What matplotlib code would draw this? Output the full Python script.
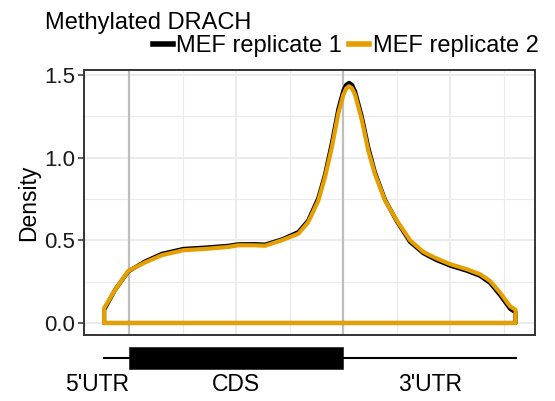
import matplotlib
matplotlib.use('Agg')
import matplotlib.pyplot as plt
from matplotlib.lines import Line2D
from matplotlib.patches import Rectangle
import numpy as np

plt.rcParams['font.family'] = ['Liberation Sans', 'DejaVu Sans']

# DATA
# metagene position: 5'UTR < 1, CDS 1..2, 3'UTR > 2
pos = [0.882, 0.933, 0.995, 1.073, 1.151, 1.252, 1.354, 1.463, 1.509, 1.587,
       1.634, 1.712, 1.790, 1.836, 1.883, 1.914, 1.946, 1.977, 2.0, 2.013,
       2.027, 2.041, 2.055, 2.086, 2.117, 2.148, 2.195, 2.250, 2.312, 2.374,
       2.436, 2.499, 2.577, 2.639, 2.686, 2.733, 2.780, 2.805]
rep1 = [0.08, 0.20, 0.312, 0.372, 0.418, 0.448, 0.456, 0.467, 0.476, 0.477,
        0.474, 0.505, 0.55, 0.62, 0.755, 0.895, 1.085, 1.295, 1.405, 1.44,
        1.452, 1.44, 1.40, 1.25, 1.06, 0.91, 0.745, 0.615, 0.49, 0.422,
        0.38, 0.347, 0.316, 0.285, 0.242, 0.168, 0.085, 0.065]
rep2 = [0.09, 0.20, 0.315, 0.366, 0.41, 0.44, 0.448, 0.46, 0.47, 0.47,
        0.467, 0.50, 0.54, 0.61, 0.74, 0.88, 1.06, 1.27, 1.38, 1.418,
        1.432, 1.418, 1.38, 1.23, 1.04, 0.90, 0.74, 0.62, 0.50, 0.43,
        0.39, 0.356, 0.325, 0.295, 0.254, 0.183, 0.10, 0.08]
series = ['MEF replicate 1', 'MEF replicate 2']
colors = ['#000000', '#E69F00']
boundaries = [1.0, 2.0]
regions = ["5'UTR", 'CDS', "3'UTR"]
region_label_x = [0.85, 1.5, 2.405]
yticks = [0.0, 0.5, 1.0, 1.5]

# PLOT
fig = plt.figure(figsize=(5.55, 4.01), dpi=100)
ax = fig.add_axes([0.1514, 0.1646, 0.8126, 0.6608])

grid_col = '#EBEBEB'
for x in [1.0, 1.5, 2.0, 2.5]:
    ax.axvline(x, color=grid_col, lw=1.4, zorder=0)
for x in [1.25, 1.75, 2.25, 2.75]:
    ax.axvline(x, color=grid_col, lw=0.8, zorder=0)
for y in yticks:
    ax.axhline(y, color=grid_col, lw=1.4, zorder=0)
for y in [0.25, 0.75, 1.25]:
    ax.axhline(y, color=grid_col, lw=0.8, zorder=0)

for b in boundaries:
    ax.axvline(b, color='#BEBEBE', lw=1.6, zorder=1)

# density outlines closed at zero like geom_density
for vals, col in zip([rep1, rep2], colors):
    xs = np.r_[pos[0], pos, pos[-1], pos[0]]
    ys = np.r_[0, vals, 0, 0]
    ax.plot(xs, ys, color=col, lw=3.0, solid_joinstyle='round',
            solid_capstyle='round', zorder=2)

ax.set_xlim(0.788, 2.896)
ax.set_ylim(-0.0726, 1.530)
ax.set_xticks([])
ax.set_yticks(yticks)
ax.set_yticklabels(['{:.1f}'.format(t) for t in yticks])
ax.tick_params(axis='y', length=4, width=1.1, color='#333333',
               labelsize=16, labelcolor='#1a1a1a', pad=2.5)
for sp in ax.spines.values():
    sp.set_color('#333333')
    sp.set_linewidth(1.4)
ax.set_ylabel('Density', fontsize=16.5, labelpad=3)

handles = [Line2D([], [], color=c, lw=4) for c in colors]
lg = ax.legend(handles, series, loc='center right', bbox_to_anchor=(1.008, 1.09),
               ncol=2, frameon=False, fontsize=17, handlelength=0.85,
               handletextpad=0.15, columnspacing=0.3, borderpad=0,
               borderaxespad=0)

fig.text(0.081, 0.928, 'Methylated DRACH', fontsize=17, ha='left',
         va='baseline')

# gene model below the panel
gx = fig.add_axes([0.1514, 0.0, 0.8126, 0.152])
gx.set_xlim(ax.get_xlim())
gx.set_ylim(0, 1)
gx.axis('off')
gx.plot([pos[0], pos[-1]], [0.705, 0.705], color='black', lw=1.5)
gx.add_patch(Rectangle((boundaries[0], 0.525), boundaries[1] - boundaries[0],
                       0.36, facecolor='black', edgecolor='#333333', lw=0.6))
for lab, lx in zip(regions, region_label_x):
    gx.text(lx, 0.27, lab, ha='center', va='center', fontsize=16.5)

fig.savefig('out.png', dpi=100)
